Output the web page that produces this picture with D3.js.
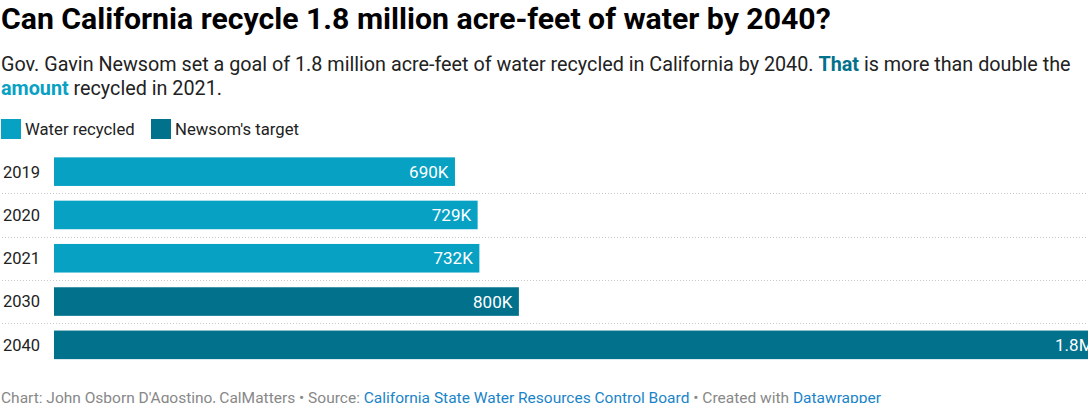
<!DOCTYPE html>
<html>
<head>
<meta charset="utf-8">
<script src="https://cdn.jsdelivr.net/npm/d3@7"></script>
<style>
  html, body { margin: 0; padding: 0; background: #fff; overflow: hidden; }
  svg { display: block; font-family: Roboto, "Noto Sans", sans-serif; }
</style>
</head>
<body>
<svg id="chart" width="1088" height="403"></svg>
<script>
const years = ["2019", "2020", "2021", "2030", "2040"];
const values = [690000, 729000, 732000, 800000, 1800000];
const seriesOf = ["recycled", "recycled", "recycled", "target", "target"];
const legendLabels = ["Water recycled", "Newsom's target"];
const seriesKeys = ["recycled", "target"];
const seriesColors = ["#07a1c4", "#02718c"];

const color = d3.scaleOrdinal().domain(seriesKeys).range(seriesColors);
const fmt = v => v >= 1e6 ? (v / 1e6) + "M" : (v / 1e3) + "K";

const svg = d3.select("#chart");

// Title
svg.append("text").attr("x", 1).attr("y", 29)
  .attr("font-size", 30.2).attr("font-weight", 700).attr("fill", "#000")
  .text("Can California recycle 1.8 million acre-feet of water by 2040?");

// Subtitle
const sub1 = svg.append("text").attr("x", 1).attr("y", 71)
  .attr("font-size", 19.75).attr("fill", "#222");
sub1.append("tspan").text("Gov. Gavin Newsom set a goal of 1.8 million acre-feet of water recycled in California by 2040. ");
sub1.append("tspan").attr("font-weight", 700).attr("fill", color("target")).text("That");
sub1.append("tspan").text(" is more than double the");
const sub2 = svg.append("text").attr("x", 1).attr("y", 95)
  .attr("font-size", 19.75).attr("fill", "#222");
sub2.append("tspan").attr("font-weight", 700).attr("fill", color("recycled")).text("amount");
sub2.append("tspan").text(" recycled in 2021.");

// Legend
const legendX = [1, 151];
const lg = svg.append("g").selectAll("g").data(seriesKeys).join("g")
  .attr("transform", (d, i) => `translate(${legendX[i]},119)`);
lg.append("rect").attr("width", 20).attr("height", 20).attr("fill", d => color(d));
lg.append("text").attr("x", 24).attr("y", 16).attr("font-size", 16.7).attr("fill", "#222")
  .text((d, i) => legendLabels[i]);

// Scales
const y = d3.scaleBand().domain(years).range([150, 366.5]).paddingInner(0.34).paddingOuter(0.17);
const x = d3.scaleLinear().domain([0, 1800000]).range([54, 1100]);

const rows = years.map((yr, i) => ({ yr, v: values[i], s: seriesOf[i] }));

// Separators
const step = y.step();
svg.append("g").selectAll("line").data(years.slice(0, -1)).join("line")
  .attr("x1", 2).attr("x2", 1088)
  .attr("y1", d => Math.round(y(d) + y.bandwidth() + (step - y.bandwidth()) / 2) + 0.5)
  .attr("y2", d => Math.round(y(d) + y.bandwidth() + (step - y.bandwidth()) / 2) + 0.5)
  .attr("stroke", "#c8c8c8").attr("stroke-width", 1).attr("stroke-dasharray", "1,2");

// Bars
svg.append("g").selectAll("rect").data(rows).join("rect")
  .attr("x", x(0)).attr("y", d => y(d.yr))
  .attr("width", d => x(d.v) - x(0)).attr("height", y.bandwidth())
  .attr("fill", d => color(d.s));

// Year labels
svg.append("g").selectAll("text").data(rows).join("text")
  .attr("x", 3).attr("y", d => y(d.yr) + y.bandwidth() / 2)
  .attr("dy", "0.36em").attr("font-size", 16.5).attr("fill", "#222")
  .text(d => d.yr);

// Value labels
svg.append("g").selectAll("text").data(rows).join("text")
  .attr("x", d => x(d.v) - 6.5).attr("y", d => y(d.yr) + y.bandwidth() / 2)
  .attr("dy", "0.36em").attr("text-anchor", "end").attr("font-size", 17).attr("fill", "#fff")
  .text(d => fmt(d.v));

// Footer
const ft = svg.append("text").attr("x", 1).attr("y", 403).attr("font-size", 15.5).attr("fill", "#888");
ft.append("tspan").text("Chart: John Osborn D'Agostino, CalMatters • Source: ");
ft.append("tspan").attr("fill", "#1a84c8").text("California State Water Resources Control Board");
ft.append("tspan").text(" • Created with ");
ft.append("tspan").attr("fill", "#1a84c8").text("Datawrapper");
</script>
</body>
</html>
